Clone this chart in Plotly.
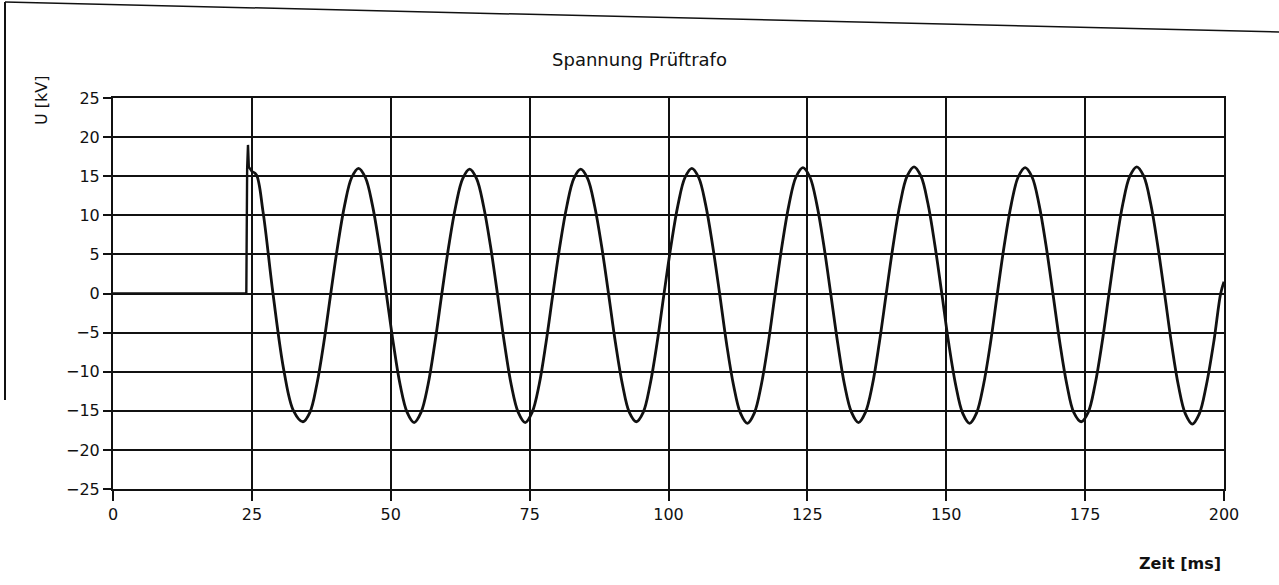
import plotly.graph_objects as go

# Switch-on of the test transformer: baseline, then the sharp edge with its overshoot
t_switch = [0.0, 24.0, 24.15, 24.3, 24.45, 25.0]
u_switch = [0.0, 0.0, 16.0, 19.0, 16.2, 15.6]

# Steady 50 Hz voltage after switch-on (time in ms, voltage in kV)
t_wave = [
    25.0, 25.8, 27.0, 28.8, 30.8, 32.5,
    34.2, 35.45, 36.7, 37.95, 39.2, 40.45, 41.7, 42.95, 44.2, 45.45, 46.7, 47.95, 49.2, 50.45, 51.7, 52.95,
    54.2, 55.45, 56.7, 57.95, 59.2, 60.45, 61.7, 62.95, 64.2, 65.45, 66.7, 67.95, 69.2, 70.45, 71.7, 72.95,
    74.2, 75.45, 76.7, 77.95, 79.2, 80.45, 81.7, 82.95, 84.2, 85.45, 86.7, 87.95, 89.2, 90.45, 91.7, 92.95,
    94.2, 95.45, 96.7, 97.95, 99.2, 100.45, 101.7, 102.95, 104.2, 105.45, 106.7, 107.95, 109.2, 110.45, 111.7, 112.95,
    114.2, 115.45, 116.7, 117.95, 119.2, 120.45, 121.7, 122.95, 124.2, 125.45, 126.7, 127.95, 129.2, 130.45, 131.7, 132.95,
    134.2, 135.45, 136.7, 137.95, 139.2, 140.45, 141.7, 142.95, 144.2, 145.45, 146.7, 147.95, 149.2, 150.45, 151.7, 152.95,
    154.2, 155.45, 156.7, 157.95, 159.2, 160.45, 161.7, 162.95, 164.2, 165.45, 166.7, 167.95, 169.2, 170.45, 171.7, 172.95,
    174.3, 175.55, 176.8, 178.05, 179.3, 180.55, 181.8, 183.05, 184.3, 185.55, 186.8, 188.05, 189.3, 190.55, 191.8, 193.05,
    194.3, 195.55, 196.8, 198.2, 199.4, 200.0,
]
u_wave = [
    15.6, 15.2, 10.5, 0.0, -10.0, -15.0,
    -16.4, -15.2, -11.6, -6.3, 0.0, 6.1, 11.3, 14.8, 16.0, 14.8, 11.3, 6.1, 0.0, -6.3, -11.7, -15.2,
    -16.5, -15.2, -11.7, -6.3, 0.0, 6.1, 11.2, 14.7, 15.9, 14.7, 11.2, 6.1, 0.0, -6.3, -11.7, -15.2,
    -16.5, -15.2, -11.7, -6.3, 0.0, 6.1, 11.2, 14.7, 15.9, 14.7, 11.2, 6.1, 0.0, -6.3, -11.6, -15.2,
    -16.4, -15.2, -11.6, -6.3, 0.0, 6.1, 11.3, 14.8, 16.0, 14.8, 11.3, 6.1, 0.0, -6.4, -11.7, -15.3,
    -16.6, -15.3, -11.7, -6.4, 0.0, 6.2, 11.4, 14.9, 16.1, 14.9, 11.4, 6.2, 0.0, -6.3, -11.7, -15.2,
    -16.5, -15.2, -11.7, -6.3, 0.0, 6.2, 11.5, 15.0, 16.2, 15.0, 11.5, 6.2, 0.0, -6.4, -11.7, -15.3,
    -16.6, -15.3, -11.7, -6.4, 0.0, 6.2, 11.4, 14.9, 16.1, 14.9, 11.4, 6.2, 0.0, -6.3, -11.6, -15.2,
    -16.4, -15.2, -11.6, -6.3, 0.0, 6.2, 11.5, 15.0, 16.2, 15.0, 11.5, 6.2, 0.0, -6.4, -11.8, -15.4,
    -16.7, -15.4, -11.8, -6.0, 0.0, 1.5,
]

x_ticks = [0, 25, 50, 75, 100, 125, 150, 175, 200]
y_ticks = [-25, -20, -15, -10, -5, 0, 5, 10, 15, 20, 25]

FONT = "DejaVu Sans"
INK = "#111111"

fig = go.Figure()
fig.add_trace(go.Scatter(
    x=t_switch, y=u_switch, mode="lines",
    line=dict(color=INK, width=2.4), showlegend=False, hoverinfo="skip",
))
fig.add_trace(go.Scatter(
    x=t_wave, y=u_wave, mode="lines",
    line=dict(color=INK, width=2.8, shape="spline", smoothing=1.0),
    showlegend=False,
))

fig.update_layout(
    width=1279, height=585,
    margin=dict(l=113, r=55, t=98, b=96),
    paper_bgcolor="white", plot_bgcolor="white",
    font=dict(family=FONT, color=INK, size=16),
    title=dict(text="Spannung Prüftrafo", x=0.5, xanchor="center",
               y=1 - 60 / 585, yanchor="middle",
               font=dict(family=FONT, size=18, color=INK)),
    xaxis=dict(
        range=[0, 200], tickvals=x_ticks, ticktext=[str(v) for v in x_ticks],
        showgrid=True, gridcolor=INK, gridwidth=1.8, zeroline=False,
        showline=True, linecolor=INK, linewidth=2, mirror=True,
        ticks="outside", ticklen=10, tickwidth=2, tickcolor=INK,
        tickfont=dict(family=FONT, size=16, color=INK),
    ),
    yaxis=dict(
        range=[-25, 25], tickvals=y_ticks,
        ticktext=[str(v).replace("-", "\u2212") for v in y_ticks],
        showgrid=True, gridcolor=INK, gridwidth=1.8, zeroline=False,
        showline=True, linecolor=INK, linewidth=2, mirror=True,
        ticks="outside", ticklen=8, tickwidth=2, tickcolor=INK,
        tickfont=dict(family=FONT, size=16, color=INK),
    ),
    annotations=[
        dict(text="U [kV]", xref="paper", yref="paper",
             x=(42 - 113) / 1111, y=(489 - 100) / 391,
             xanchor="center", yanchor="middle", textangle=-90,
             showarrow=False, font=dict(family=FONT, size=16, color=INK)),
        dict(text="<b>Zeit [ms]</b>", xref="paper", yref="paper",
             x=(1180 - 113) / 1111, y=(489 - 563) / 391,
             xanchor="center", yanchor="middle",
             showarrow=False, font=dict(family=FONT, size=16, color=INK)),
    ],
    shapes=[
        # sheet border, left and top edges
        dict(type="line", xref="paper", yref="paper",
             x0=(5 - 113) / 1111, y0=(489 - 2) / 391,
             x1=(5 - 113) / 1111, y1=(489 - 400) / 391,
             line=dict(color=INK, width=2)),
        dict(type="line", xref="paper", yref="paper",
             x0=(5 - 113) / 1111, y0=(489 - 2) / 391,
             x1=(1279 - 113) / 1111, y1=(489 - 32) / 391,
             line=dict(color=INK, width=1.5)),
    ],
)

fig.write_html("out.html")
